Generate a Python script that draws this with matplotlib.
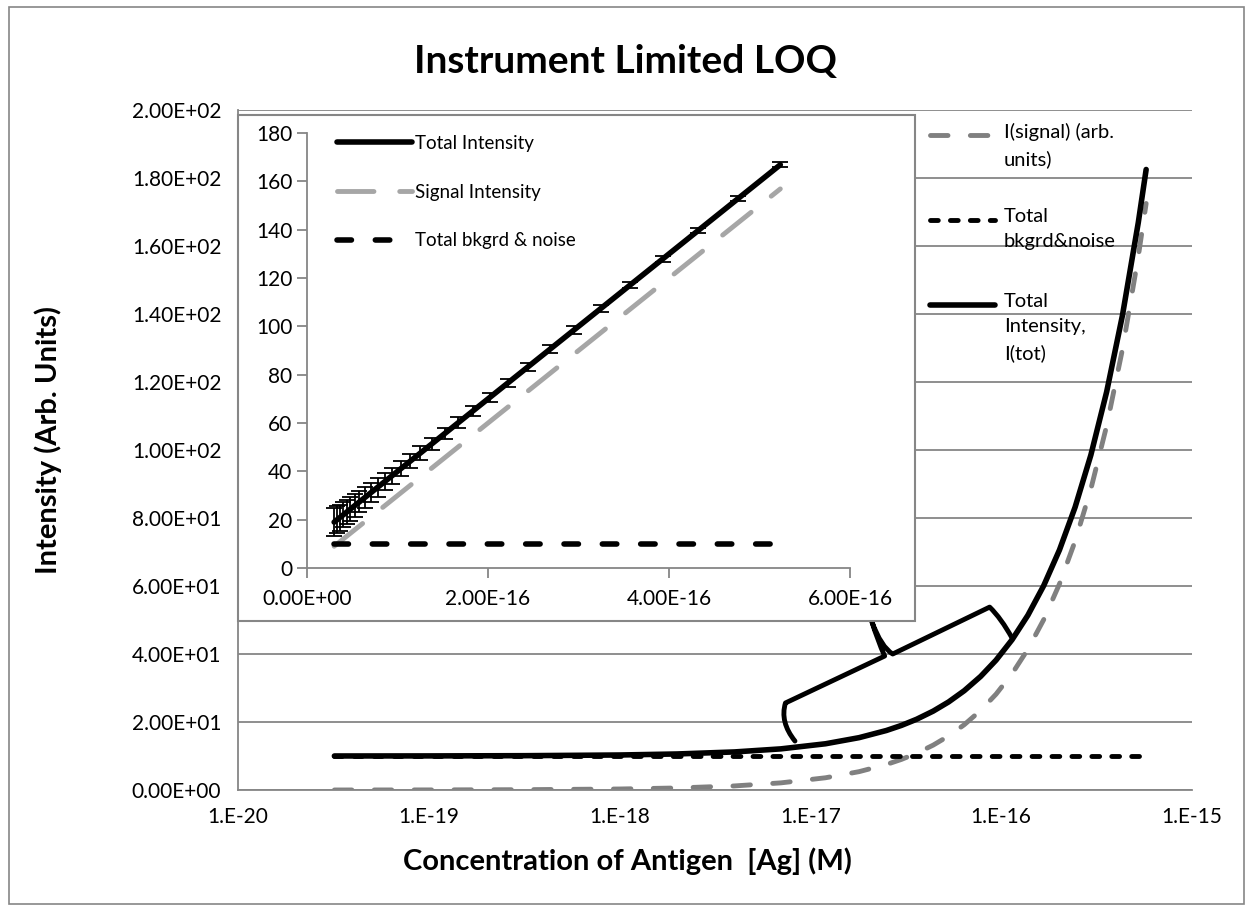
import matplotlib
matplotlib.use("Agg")
import matplotlib.pyplot as plt
from matplotlib.path import Path
from matplotlib.patches import PathPatch, Rectangle
from matplotlib.lines import Line2D

plt.rcParams['font.family'] = ['Lato', 'DejaVu Sans']

# main chart (log x)
main_conc = [3.2e-20, 1e-19, 3.2e-19, 1e-18, 2e-18, 4e-18, 7e-18, 1.2e-17, 1.8e-17, 2.5e-17,
             3.0e-17, 3.6e-17, 4.4e-17, 5.3e-17, 6.4e-17, 7.8e-17, 9.4e-17, 1.14e-16,
             1.38e-16, 1.67e-16, 2.02e-16, 2.44e-16, 2.95e-16, 3.57e-16, 4.32e-16,
             5.23e-16, 5.75e-16]
main_signal = [0.01, 0.03, 0.1, 0.3, 0.6, 1.2, 2.1, 3.6, 5.4, 7.5,
               9.0, 10.8, 13.2, 15.9, 19.2, 23.4, 28.2, 34.2,
               41.4, 50.1, 60.6, 73.2, 88.5, 107.1, 129.6,
               156.9, 172.5]
main_total = [10.01, 10.03, 10.1, 10.3, 10.6, 11.2, 12.1, 13.6, 15.4, 17.5,
              19.0, 20.8, 23.2, 25.9, 29.2, 33.4, 38.2, 44.2,
              51.4, 60.1, 70.6, 83.2, 98.5, 117.1, 139.6,
              166.9, 182.5]
main_bkgd = [10] * len(main_conc)

# inset (linear x)
ins_conc = [3.0e-17, 3.3e-17, 3.6e-17, 4.0e-17, 4.4e-17, 4.8e-17, 5.3e-17, 5.8e-17, 6.4e-17,
            7.1e-17, 7.8e-17, 8.6e-17, 9.4e-17, 1.04e-16, 1.14e-16, 1.25e-16, 1.38e-16,
            1.52e-16, 1.67e-16, 1.83e-16, 2.02e-16, 2.22e-16, 2.44e-16, 2.69e-16, 2.95e-16,
            3.25e-16, 3.57e-16, 3.93e-16, 4.32e-16, 4.76e-16, 5.23e-16]
ins_signal = [9.0, 9.9, 10.8, 12.0, 13.2, 14.4, 15.9, 17.4, 19.2, 21.3, 23.4, 25.8, 28.2,
              31.2, 34.2, 37.5, 41.4, 45.6, 50.1, 54.9, 60.6, 66.6, 73.2, 80.7, 88.5,
              97.5, 107.1, 117.9, 129.6, 142.8, 156.9]
ins_total = [19.0, 19.9, 20.8, 22.0, 23.2, 24.4, 25.9, 27.4, 29.2, 31.3, 33.4, 35.8, 38.2,
             41.2, 44.2, 47.5, 51.4, 55.6, 60.1, 64.9, 70.6, 76.6, 83.2, 90.7, 98.5,
             107.5, 117.1, 127.9, 139.6, 152.8, 166.9]
ins_err = [5.8, 5.6, 5.4, 5.2, 5.0, 4.8, 4.6, 4.4, 4.2, 4.0, 3.8, 3.6, 3.4, 3.2, 3.0, 2.8,
           2.6, 2.4, 2.2, 2.0, 1.9, 1.8, 1.7, 1.6, 1.5, 1.4, 1.3, 1.2, 1.1, 1.0, 1.0]
ins_bkgd = [10] * len(ins_conc)

main_yticks = [0, 20, 40, 60, 80, 100, 120, 140, 160, 180, 200]
main_xticks = [1e-20, 1e-19, 1e-18, 1e-17, 1e-16, 1e-15]
main_xlabels = ['1.E-20', '1.E-19', '1.E-18', '1.E-17', '1.E-16', '1.E-15']
ins_xticks = [0, 2e-16, 4e-16, 6e-16]
ins_xlabels = ['0.00E+00', '2.00E-16', '4.00E-16', '6.00E-16']
ins_yticks = [0, 20, 40, 60, 80, 100, 120, 140, 160, 180]

GRID = '#868686'
W, H = 1250, 909

fig = plt.figure(figsize=(12.5, 9.09), dpi=100)
fig.patches.append(Rectangle((0.007, 0.005), 0.988, 0.987, transform=fig.transFigure,
                             fill=False, edgecolor=GRID, lw=1.2))

ax = fig.add_axes([0.1904, 0.1309, 0.7632, 0.7481])
ax.set_xscale('log')
ax.set_xlim(1e-20, 1e-15)
ax.set_ylim(0, 200)
ax.set_yticks(main_yticks)
ax.set_yticklabels([f"{v:.2E}" for v in main_yticks])
ax.set_xticks(main_xticks)
ax.set_xticklabels(main_xlabels)
ax.minorticks_off()
ax.tick_params(length=0, labelsize=15, pad=12)
ax.grid(axis='y', color=GRID, lw=1.3)
ax.set_axisbelow(True)
for s in ['top', 'right']:
    ax.spines[s].set_visible(False)
for s in ['left', 'bottom']:
    ax.spines[s].set_color(GRID)
    ax.spines[s].set_linewidth(1.3)

main_styles = [
    dict(color='#808080', lw=3.5, dashes=(3.6, 4.6), dash_capstyle='round'),
    dict(color='black', lw=3.5, dashes=(1.6, 2.5), dash_capstyle='round'),
    dict(color='black', lw=4, solid_capstyle='round'),
]
main_names = ['I(signal) (arb.\nunits)', 'Total\nbkgrd&noise', 'Total\nIntensity,\nI(tot)']
for yv, st in zip([main_signal, main_bkgd, main_total], main_styles):
    ax.plot(main_conc, yv, **st)

ax.set_xlabel('Concentration of Antigen  [Ag] (M)', fontsize=21, fontweight='bold')
ax.set_ylabel('Intensity (Arb. Units)', fontsize=21, fontweight='bold')
ax.xaxis.set_label_coords((627 - 238) / 954, (790 - 847) / 680)
ax.yaxis.set_label_coords((62 - 238) / 954, (790 - 440) / 680)
fig.text(0.5, 1 - 62 / H, 'Instrument Limited LOQ', fontsize=28, fontweight='bold',
         ha='center', va='center')

# legend of the main chart, handle beside the first line of each label
for hy, name, st in zip([135, 220, 305], main_names, main_styles):
    fig.add_artist(Line2D([930 / W, 995 / W], [1 - hy / H, 1 - hy / H],
                          transform=fig.transFigure, **st))
    fig.text(1004 / W, 1 - (hy - 12) / H, name, fontsize=14.5, va='top',
             linespacing=1.6)

# bracket connecting the inset to the rising part of the curve
verts = [(8.3e-18, 14.4), (6.9e-18, 20.0), (7.4e-18, 25.6), (2.45e-17, 39.4),
         (2.25e-17, 44.0), (2.1e-17, 49.5), (2.35e-17, 42.0), (2.7e-17, 40.0),
         (8.7e-17, 53.8), (1.0e-16, 50.5), (1.14e-16, 44.7)]
codes = [Path.MOVETO, Path.CURVE3, Path.CURVE3, Path.LINETO, Path.CURVE3, Path.CURVE3,
         Path.CURVE3, Path.CURVE3, Path.LINETO, Path.CURVE3, Path.CURVE3]
ax.add_patch(PathPatch(Path(verts, codes), fill=False, edgecolor='black', lw=3.5,
                       joinstyle='round', capstyle='round', zorder=4))

# inset frame and axes
fig.patches.append(Rectangle((0.1904, 0.3168), 0.5416, 0.5567, transform=fig.transFigure,
                             facecolor='white', edgecolor=GRID, lw=1.5, zorder=5))
ins = fig.add_axes([0.2456, 0.3751, 0.4344, 0.4785], zorder=6)
ins.patch.set_alpha(0)
ins.set_xlim(0, 6e-16)
ins.set_ylim(0, 180)
ins.set_xticks(ins_xticks)
ins.set_xticklabels(ins_xlabels)
ins.set_yticks(ins_yticks)
ins.tick_params(direction='out', length=7, color=GRID, width=1.3, labelsize=15)
ins.tick_params(axis='x', pad=8)
for s in ['top', 'right']:
    ins.spines[s].set_visible(False)
for s in ['left', 'bottom']:
    ins.spines[s].set_color(GRID)
    ins.spines[s].set_linewidth(1.3)

ins.errorbar(ins_conc, ins_total, yerr=ins_err, fmt='none', ecolor='black', elinewidth=1.3,
             capsize=6, capthick=1.3)
i1, = ins.plot(ins_conc, ins_total, color='black', lw=4, solid_capstyle='round',
               label='Total Intensity')
i2, = ins.plot(ins_conc, ins_signal, color='#A6A6A6', lw=3.5, dashes=(7.5, 5.3),
               dash_capstyle='round', label='Signal Intensity')
i3, = ins.plot(ins_conc, ins_bkgd, color='black', lw=4, dashes=(2.6, 4.3),
               dash_capstyle='round', label='Total bkgrd & noise')
ins.legend(handles=[i1, i2, i3], loc='upper left', bbox_to_anchor=(0.025, 1.035),
           frameon=False, fontsize=13.5, handlelength=4.0, handletextpad=0.15,
           labelspacing=1.7)

fig.savefig('out.png', dpi=100)
